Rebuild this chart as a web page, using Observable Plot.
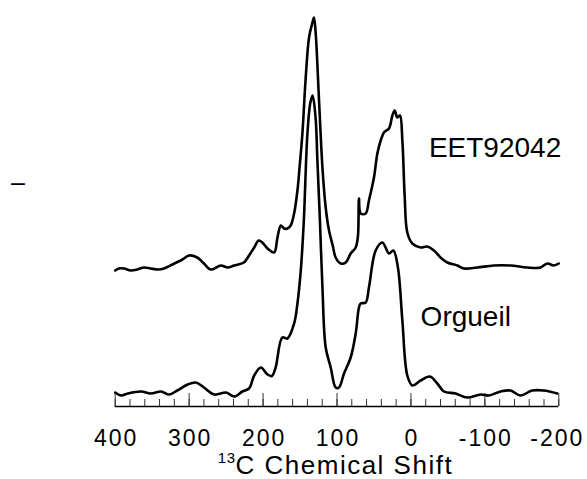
<!DOCTYPE html>
<html><head><meta charset="utf-8">
<script src="https://cdn.jsdelivr.net/npm/d3@7"></script>
<script src="https://cdn.jsdelivr.net/npm/@observablehq/plot@0.6"></script>
<style>
body{margin:0;background:#fff}
</style>
</head><body><div id="chart"></div>
<script>
// chemical shift (ppm) and intensity (arbitrary units, stacked traces)
const ppmOrgueil = [400,392,383,365,352,338,327,316,302,291,280,266,250,239,228,219,212,203,194,188,183,174,167,158,153.5,149,145,140,136,133,129,126.5,123,119.7,115.3,108.5,101.8,97.3,90.5,81.5,74.7,70.3,68,61.2,56.8,47.7,38.6,29.7,23.8,17.6,11.6,4.9,-1.9,-13.1,-25.7,-35.7,-44.6,-60.4,-76.2,-94.2,-105.4,-121.2,-134.7,-148.2,-164,-179.7,-198];
const intOrgueil = [14,11,13,15,13,15,12,16,22,24,19,12,14,10,15,18,31,39,32,30.5,39,69,68,83,103,136,184,273,304,311,289,246,184,119,59,39,19,19,33,49,73,99,103,104,119,156,164,153,156,139,86,31,21,26,30,23,15,13,9,12,11,15,16,11,16,16,13];
const ppmEET = [400,395,388,379,370,361,352,342,334,320,309,300,289,280,271,257,248,239,226,219,212,206,201,194,185,180.5,176,171.6,167,162.6,158,153.5,150.4,146.8,142.3,137.8,133.2,131.1,128.8,124.3,119.7,115.3,110.8,105.8,101.8,95,88.2,81.5,74.7,71.6,70.3,68,61.2,56.8,50,45.4,40.9,36.5,29.7,25.1,22,18.4,14.9,11.6,8.5,4.9,-1.9,-13.1,-22.2,-31.1,-40.1,-49.2,-62.7,-71.6,-89.7,-112.2,-134.7,-157.3,-175.3,-184.3,-193.2,-200];
const intEET = [136,138,138,136,137,139,138,137,138,143,147,151,149,143,137,141,139,141,144,151,159,166,164,158,154,169,181,178,178,181,193,216,241,273,329,369,384,389,373,306,239,199,176,161,149,143,144,153,159,171,208,193,193,206,229,253,266,274,278,291,296,289,291,266,211,174,163,159,160,156,149,144,141,138,139,141,141,139,139,143,141,143];
const tickLabels = [400,300,200,100,0,-100,-200];
const minorTicks = d3.range(400, -201, -20);
const seriesNames = ["EET92042", "Orgueil"];

const orgueil = ppmOrgueil.map((p, i) => ({ppm: p, v: intOrgueil[i]}));
const eet = ppmEET.map((p, i) => ({ppm: p, v: intEET[i]}));

const font = "'Liberation Sans', Arial, sans-serif";
const plot = Plot.plot({
  width: 587, height: 479,
  marginLeft: 114.7, marginRight: 28.7, marginTop: 0, marginBottom: 73,
  x: {domain: [400, -200], axis: null},
  y: {domain: [0, 406], axis: null},
  style: {fontFamily: font, background: "white", color: "black", overflow: "visible"},
  marks: [
    Plot.ruleX(minorTicks, {x: d => d, y1: 0, y2: 7, stroke: "#333", strokeWidth: 1}),
    Plot.ruleX(tickLabels, {x: d => d, y1: 0, y2: 13, stroke: "#333", strokeWidth: 1}),
    Plot.ruleY([0], {stroke: "black", strokeWidth: 1.5}),
    Plot.line(orgueil, {x: "ppm", y: "v", stroke: "black", strokeWidth: 2.6, strokeLinejoin: "round", curve: "catmull-rom"}),
    Plot.line(eet, {x: "ppm", y: "v", stroke: "black", strokeWidth: 2.6, strokeLinejoin: "round", curve: "catmull-rom"}),
    Plot.text(tickLabels, {x: d => d, y: 0, dy: 39, dx: 1, text: d => String(d), fontSize: 23, lineAnchor: "bottom", fill: "black"}),
    Plot.text([seriesNames[0]], {x: -24.3, y: 249.3, text: d => d, textAnchor: "start", lineAnchor: "bottom", fontSize: 28, fill: "black"}),
    Plot.text([seriesNames[1]], {x: -13.1, y: 80.5, text: d => d, textAnchor: "start", lineAnchor: "bottom", fontSize: 28, fill: "black"}),
    Plot.text(["\u2013"], {x: 531.5, y: 216, text: d => d, textAnchor: "middle", lineAnchor: "bottom", fontSize: 25, fill: "black"})
  ]
});
document.getElementById("chart").appendChild(plot);

// slightly wider spacing on tick labels, as in the reference
const tickSet = new Set(tickLabels.map(String));
d3.select(plot).selectAll("text")
  .filter(function() { return tickSet.has(this.textContent); })
  .attr("letter-spacing", "2px")
  .filter(function() { return this.textContent === "-200"; })
  .attr("dx", -2.5);

// x-axis title with superscript
const xs = plot.scale("x");
const cx = (xs.range[0] + xs.range[1]) / 2;
const t = d3.select(plot).append("text")
  .attr("x", cx - 1).attr("y", 474)
  .attr("text-anchor", "middle")
  .attr("font-family", font)
  .attr("font-size", 26)
  .attr("letter-spacing", "1.5px")
  .attr("fill", "black");
t.append("tspan").attr("font-size", 15).attr("dy", -11).attr("letter-spacing", "0.5px").text("13");
t.append("tspan").attr("dy", 11).text("C Chemical Shift");
</script>
</body></html>
